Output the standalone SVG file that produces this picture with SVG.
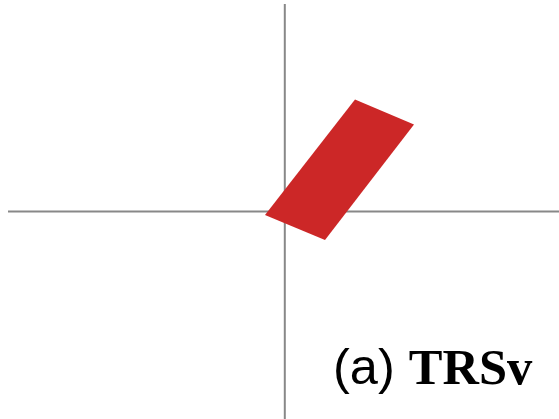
<svg xmlns="http://www.w3.org/2000/svg" width="559" height="419" viewBox="0 0 559 419">
<style>
.axis{stroke:#888;stroke-width:2;fill:none}
.shape{fill:#cc2727}
.sans{font-family:'Liberation Sans',Arial,sans-serif}
.serif{font-family:'Liberation Serif','Times New Roman',serif;font-weight:bold}
</style>
<rect width="559" height="419" fill="#fff"/>
<g id="axes">
<line class="axis" x1="8" y1="211.5" x2="559" y2="211.5"/>
<line class="axis" x1="284.8" y1="4" x2="284.8" y2="419"/>
</g>
<g id="parallelogram">
<polygon class="shape" points="355,99.5 414,124.5 325,240 265,215"/>
</g>
<g id="label">
<text x="333" y="384" font-size="50.5" class="sans">(a) <tspan class="serif">TRSv</tspan></text>
</g>
</svg>
